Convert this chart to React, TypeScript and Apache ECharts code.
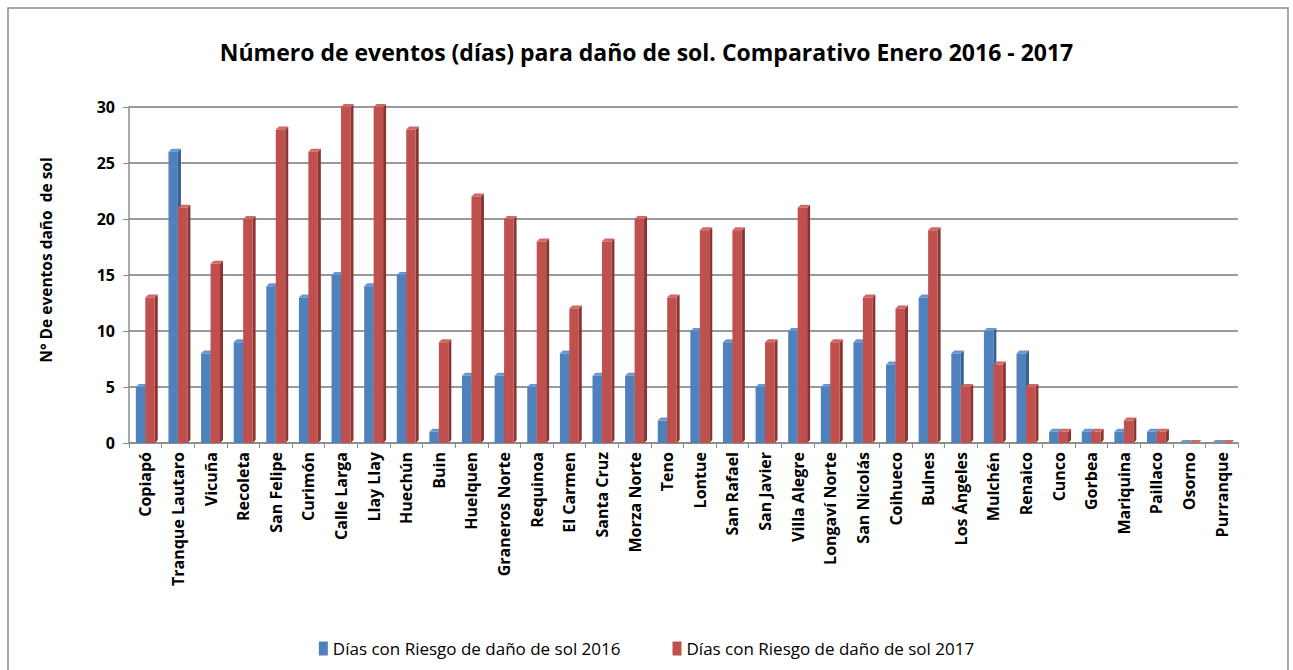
import React, { useEffect, useRef } from "react";
import * as echarts from "echarts";

const categories = [
  "Copiapó", "Tranque Lautaro", "Vicuña", "Recoleta", "San Felipe", "Curimón",
  "Calle Larga", "Llay Llay", "Huechún", "Buin", "Huelquen", "Graneros Norte",
  "Requinoa", "El Carmen", "Santa Cruz", "Morza Norte", "Teno", "Lontue",
  "San Rafael", "San Javier", "Villa Alegre", "Longaví Norte", "San Nicolás",
  "Coihueco", "Bulnes", "Los Ángeles", "Mulchén", "Renaico", "Cunco", "Gorbea",
  "Mariquina", "Paillaco", "Osorno", "Purranque",
];

const values2016 = [
  5, 26, 8, 9, 14, 13, 15, 14, 15, 1, 6, 6, 5, 8, 6, 6, 2, 10, 9, 5, 10, 5, 9, 7,
  13, 8, 10, 8, 1, 1, 1, 1, 0, 0,
];

const values2017 = [
  13, 21, 16, 20, 28, 26, 30, 30, 28, 9, 22, 20, 18, 12, 18, 20, 13, 19, 19, 9,
  21, 9, 13, 12, 19, 5, 7, 5, 1, 1, 2, 1, 0, 0,
];

const seriesNames = [
  "Días con Riesgo de daño de sol 2016",
  "Días con Riesgo de daño de sol 2017",
];

const yAxisTitle = "N° De eventos daño  de sol";
const chartTitle = "Número de eventos (días) para daño de sol. Comparativo Enero 2016 - 2017";

const yTicks = { min: 0, max: 30, interval: 5 };

const FONT = "'Open Sans', Lato, sans-serif";

const BLUE = { front: "#4F81BD", side: "#36608F", top: "#6A96CC" };
const RED = { front: "#C0504D", side: "#8B3532", top: "#D06966" };

function makeRender(side: number, col: { front: string; side: string; top: string }) {
  return (params: any, api: any) => {
    const idx = api.value(0);
    const val = api.value(1);
    const topPt = api.coord([idx, val]);
    const basePt = api.coord([idx, 0]);
    const band = api.size([1, 0])[0];
    const w = band * 0.29;
    const d = 3;
    const x0 = side < 0 ? topPt[0] - w : topPt[0];
    const x1 = x0 + w;
    const yT = topPt[1];
    const yB = basePt[1];
    return {
      type: "group",
      children: [
        {
          type: "polygon",
          shape: { points: [[x1, yT], [x1 + d, yT - d], [x1 + d, yB - d], [x1, yB]] },
          style: { fill: col.side },
        },
        {
          type: "polygon",
          shape: { points: [[x0, yT], [x0 + d, yT - d], [x1 + d, yT - d], [x1, yT]] },
          style: { fill: col.top },
        },
        {
          type: "rect",
          shape: { x: x0, y: yT, width: w, height: Math.max(yB - yT, 0) },
          style: { fill: col.front },
        },
      ],
    };
  };
}

export default function App() {
  const ref = useRef<HTMLDivElement>(null);

  useEffect(() => {
    if (!ref.current) return;
    const chart = echarts.init(ref.current, undefined, { renderer: "svg" });
    chart.setOption({
      animation: false,
      backgroundColor: "#ffffff",
      title: {
        text: chartTitle,
        left: "center",
        top: 35,
        textStyle: { fontFamily: FONT, fontSize: 23, fontWeight: "bold", color: "#000" },
      },
      graphic: [
        {
          type: "rect",
          shape: { x: 8, y: 8, width: 1280, height: 700 },
          style: { fill: "none", stroke: "#8c8c8c", lineWidth: 1.5 },
          silent: true,
        },
        {
          type: "text",
          x: 46,
          y: 260,
          rotation: Math.PI / 2,
          style: {
            text: yAxisTitle,
            align: "center",
            verticalAlign: "middle",
            fontFamily: FONT,
            fontSize: 15.5,
            fontWeight: "bold",
            fill: "#000",
          },
          silent: true,
        },
      ],
      legend: {
        top: 635,
        left: "center",
        itemWidth: 9,
        itemHeight: 14,
        itemGap: 52,
        itemTextGap: 6,
        icon: "rect",
        textStyle: { fontFamily: FONT, fontSize: 17, color: "#000", fontWeight: "normal" },
        data: seriesNames,
      },
      grid: { left: 129, right: 55, top: 107, bottom: 227 },
      xAxis: {
        type: "category",
        data: categories,
        axisLine: { show: true, lineStyle: { color: "#8c8c8c", width: 1.5 } },
        axisTick: { show: true, alignWithLabel: false, length: 5, lineStyle: { color: "#8c8c8c" } },
        axisLabel: {
          rotate: 90,
          interval: 0,
          margin: 9,
          fontFamily: FONT,
          fontSize: 16,
          fontWeight: "bold",
          color: "#000",
        },
        splitLine: { show: false },
      },
      yAxis: {
        type: "value",
        min: yTicks.min,
        max: yTicks.max,
        interval: yTicks.interval,
        axisLine: { show: true, lineStyle: { color: "#8c8c8c", width: 1.5 } },
        axisTick: { show: true, length: 6, lineStyle: { color: "#8c8c8c" } },
        axisLabel: {
          margin: 14,
          fontFamily: FONT,
          fontSize: 16,
          fontWeight: "bold",
          color: "#000",
        },
        splitLine: { show: true, lineStyle: { color: "#999999", width: 2 } },
      },
      series: [
        {
          name: seriesNames[0],
          type: "custom",
          itemStyle: { color: BLUE.front },
          renderItem: makeRender(-1, BLUE),
          encode: { x: 0, y: 1 },
          data: values2016.map((v, i) => [i, v]),
        },
        {
          name: seriesNames[1],
          type: "custom",
          itemStyle: { color: RED.front },
          renderItem: makeRender(1, RED),
          encode: { x: 0, y: 1 },
          data: values2017.map((v, i) => [i, v]),
        },
      ],
    });
    return () => chart.dispose();
  }, []);

  return (
    <div
      ref={ref}
      style={{ position: "fixed", left: 0, top: 0, width: 1293, height: 670 }}
    />
  );
}
